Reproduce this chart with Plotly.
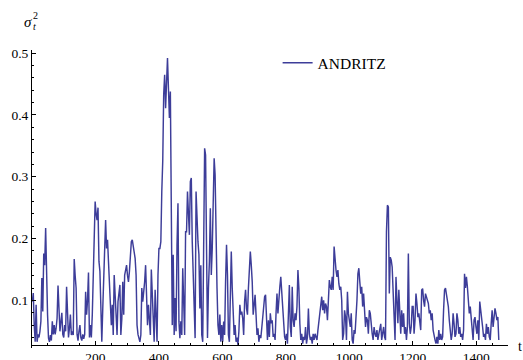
import plotly.graph_objects as go

t = list(range(1, 1472, 3))
sigma2 = [
    # t 1 - 61
    0.098, 0.112, 0.060, 0.033, 0.093, 0.033, 0.045, 0.040, 0.050, 0.066, 0.136,
    0.082, 0.176, 0.157, 0.217, 0.120, 0.077, 0.039, 0.033, 0.044, 0.035,
    # t 64 - 124
    0.066, 0.045, 0.060, 0.045, 0.055, 0.071, 0.124, 0.090, 0.050, 0.065, 0.080,
    0.045, 0.040, 0.060, 0.050, 0.122, 0.060, 0.040, 0.055, 0.077, 0.044,
    # t 127 - 187
    0.050, 0.044, 0.167, 0.140, 0.120, 0.045, 0.035, 0.050, 0.060, 0.040, 0.035,
    0.045, 0.038, 0.045, 0.114, 0.077, 0.100, 0.145, 0.040, 0.060, 0.040,
    # t 190 - 250
    0.077, 0.130, 0.200, 0.260, 0.240, 0.230, 0.250, 0.163, 0.147, 0.060, 0.033,
    0.087, 0.130, 0.180, 0.230, 0.184, 0.198, 0.163, 0.130, 0.104, 0.060,
    # t 253 - 313
    0.093, 0.044, 0.141, 0.109, 0.077, 0.044, 0.098, 0.110, 0.125, 0.044, 0.070,
    0.130, 0.077, 0.141, 0.150, 0.157, 0.140, 0.130, 0.147, 0.179, 0.195,
    # t 316 - 376
    0.198, 0.185, 0.174, 0.168, 0.141, 0.060, 0.045, 0.039, 0.033, 0.044, 0.120,
    0.098, 0.110, 0.130, 0.157, 0.120, 0.060, 0.093, 0.070, 0.044, 0.150,
    # t 379 - 439
    0.100, 0.044, 0.033, 0.117, 0.050, 0.033, 0.141, 0.184, 0.184, 0.195, 0.276,
    0.325, 0.433, 0.465, 0.411, 0.454, 0.492, 0.443, 0.395, 0.438, 0.152,
    # t 442 - 502
    0.060, 0.174, 0.044, 0.104, 0.050, 0.190, 0.257, 0.066, 0.039, 0.066, 0.044,
    0.152, 0.104, 0.044, 0.211, 0.211, 0.276, 0.240, 0.206, 0.292, 0.298,
    # t 505 - 565
    0.195, 0.130, 0.098, 0.039, 0.276, 0.228, 0.195, 0.174, 0.087, 0.157, 0.044,
    0.033, 0.206, 0.346, 0.335, 0.184, 0.039, 0.120, 0.163, 0.249, 0.141,
    # t 568 - 628
    0.184, 0.280, 0.330, 0.303, 0.157, 0.120, 0.060, 0.044, 0.077, 0.033, 0.060,
    0.033, 0.066, 0.044, 0.130, 0.190, 0.141, 0.044, 0.033, 0.130, 0.179,
    # t 631 - 691
    0.120, 0.066, 0.044, 0.060, 0.033, 0.040, 0.028, 0.050, 0.093, 0.077, 0.082,
    0.071, 0.044, 0.098, 0.117, 0.087, 0.077, 0.120, 0.157, 0.179, 0.157,
    # t 694 - 754
    0.130, 0.077, 0.093, 0.109, 0.077, 0.044, 0.055, 0.033, 0.044, 0.039, 0.055,
    0.077, 0.098, 0.106, 0.109, 0.077, 0.036, 0.068, 0.041, 0.079, 0.063,
    # t 757 - 817
    0.068, 0.041, 0.046, 0.036, 0.079, 0.111, 0.079, 0.111, 0.122, 0.138, 0.110,
    0.090, 0.057, 0.041, 0.036, 0.046, 0.030, 0.079, 0.125, 0.057, 0.041,
    # t 820 - 880
    0.122, 0.068, 0.057, 0.079, 0.068, 0.090, 0.149, 0.120, 0.063, 0.036, 0.046,
    0.030, 0.041, 0.036, 0.057, 0.030, 0.041, 0.087, 0.046, 0.036, 0.041,
    # t 883 - 943
    0.030, 0.046, 0.036, 0.046, 0.041, 0.036, 0.052, 0.068, 0.079, 0.090, 0.106,
    0.084, 0.100, 0.079, 0.095, 0.090, 0.068, 0.100, 0.133, 0.122, 0.117,
    # t 946 - 1006
    0.138, 0.117, 0.187, 0.160, 0.149, 0.138, 0.149, 0.127, 0.117, 0.122, 0.100,
    0.036, 0.046, 0.084, 0.073, 0.036, 0.114, 0.079, 0.068, 0.057, 0.079,
    # t 1009 - 1069
    0.036, 0.030, 0.052, 0.046, 0.068, 0.100, 0.143, 0.152, 0.130, 0.111, 0.122,
    0.090, 0.111, 0.090, 0.057, 0.073, 0.068, 0.046, 0.084, 0.079, 0.057,
    # t 1072 - 1132
    0.046, 0.036, 0.057, 0.046, 0.041, 0.052, 0.036, 0.046, 0.057, 0.062, 0.036,
    0.046, 0.057, 0.041, 0.036, 0.211, 0.254, 0.251, 0.111, 0.170, 0.165,
    # t 1135 - 1195
    0.154, 0.120, 0.090, 0.036, 0.138, 0.079, 0.063, 0.117, 0.068, 0.046, 0.084,
    0.057, 0.079, 0.046, 0.057, 0.036, 0.057, 0.176, 0.063, 0.046, 0.057,
    # t 1198 - 1258
    0.090, 0.090, 0.046, 0.068, 0.111, 0.095, 0.073, 0.079, 0.057, 0.052, 0.117,
    0.119, 0.100, 0.090, 0.111, 0.106, 0.100, 0.095, 0.079, 0.084, 0.068,
    # t 1261 - 1321
    0.079, 0.052, 0.041, 0.036, 0.030, 0.041, 0.030, 0.052, 0.036, 0.046, 0.036,
    0.041, 0.084, 0.117, 0.120, 0.111, 0.100, 0.090, 0.068, 0.046, 0.036,
    # t 1324 - 1384
    0.046, 0.079, 0.063, 0.041, 0.046, 0.079, 0.068, 0.046, 0.057, 0.041, 0.046,
    0.036, 0.052, 0.143, 0.120, 0.138, 0.122, 0.095, 0.079, 0.090, 0.068,
    # t 1387 - 1447
    0.041, 0.036, 0.068, 0.073, 0.057, 0.046, 0.068, 0.036, 0.098, 0.080, 0.068,
    0.057, 0.041, 0.046, 0.036, 0.062, 0.046, 0.057, 0.041, 0.036, 0.062,
    # t 1450 - 1471
    0.084, 0.057, 0.068, 0.087, 0.079, 0.068, 0.073, 0.036,
]

series_name = "ANDRITZ"
x_ticks = [200, 400, 600, 800, 1000, 1200, 1400]
y_ticks = [0.1, 0.2, 0.3, 0.4, 0.5]

FONT = "Liberation Serif"
Y_RANGE = [0.023, 0.505]
X_RANGE = [0, 1500]
AXIS_Y = 0.028  # where the horizontal axis crosses

fig = go.Figure()
fig.add_trace(go.Scatter(
    x=t, y=sigma2, mode="lines", name=series_name,
    line=dict(color="rgb(61,61,153)", width=1.45),
))

xpos = (AXIS_Y - Y_RANGE[0]) / (Y_RANGE[1] - Y_RANGE[0])

fig.update_layout(
    width=523, height=360, autosize=False,
    margin=dict(l=32, r=15, t=50, b=12, pad=0),
    paper_bgcolor="white", plot_bgcolor="white",
    font=dict(family=FONT, size=13, color="black"),
    showlegend=True,
    legend=dict(x=0.516, y=1.013, xanchor="left", yanchor="top",
                bgcolor="rgba(0,0,0,0)", font=dict(family=FONT, size=15.5)),
    xaxis=dict(
        range=X_RANGE, anchor="free", position=xpos, automargin=False,
        showline=True, linecolor="black", linewidth=1,
        showgrid=False, zeroline=False,
        tickmode="array", tickvals=x_ticks,
        ticks="inside", ticklen=4, tickcolor="black",
        minor=dict(ticks="inside", ticklen=2, dtick=50, tick0=0, tickcolor="black"),
        tickfont=dict(family=FONT, size=13.5),
    ),
    yaxis=dict(
        range=Y_RANGE, automargin=False,
        showline=True, linecolor="black", linewidth=1,
        showgrid=False, zeroline=False,
        tickmode="array", tickvals=y_ticks, ticktext=[str(v) for v in y_ticks],
        ticks="inside", ticklen=4, tickcolor="black",
        minor=dict(ticks="inside", ticklen=2, dtick=0.02, tick0=0, tickcolor="black"),
        tickfont=dict(family=FONT, size=13.5),
    ),
)

# axis labels: sigma_t^2 at the top of the vertical axis, t at the end of the horizontal one
fig.add_annotation(text="<i>σ</i>", xref="paper", yref="paper", x=-0.0084, y=1.094,
                   showarrow=False, font=dict(family=FONT, size=15), xanchor="center", yanchor="middle")
fig.add_annotation(text="2", xref="paper", yref="paper", x=0.0084, y=1.117,
                   showarrow=False, font=dict(family=FONT, size=10), xanchor="center", yanchor="middle")
fig.add_annotation(text="<i>t</i>", xref="paper", yref="paper", x=0.0063, y=1.0805,
                   showarrow=False, font=dict(family=FONT, size=10), xanchor="center", yanchor="middle")
fig.add_annotation(text="t", xref="paper", yref="paper", x=1.025, y=0.0067,
                   showarrow=False, font=dict(family=FONT, size=14), xanchor="center", yanchor="middle")

fig.write_html("out.html", config={"displayModeBar": False})
